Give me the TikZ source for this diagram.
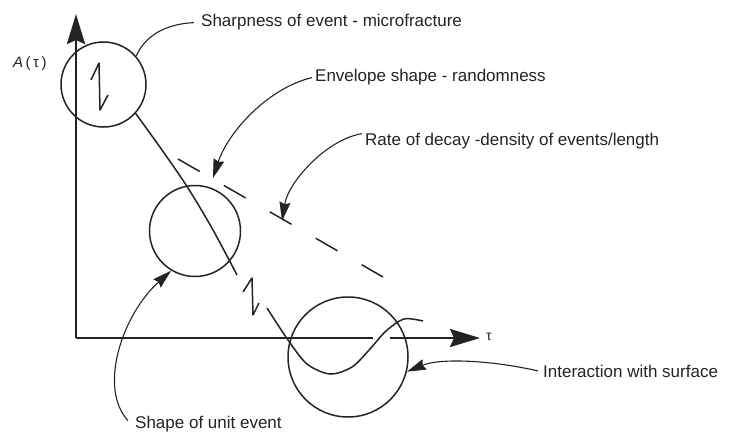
\documentclass[tikz,border=0pt]{standalone}
\usepackage{fontspec}
\setmainfont{Liberation Sans}
\usetikzlibrary{arrows.meta,positioning}
\definecolor{ink}{RGB}{35,35,35}

\begin{document}
\begin{tikzpicture}[x=1pt,y=-1pt,
  every node/.style={font=\fontsize{17}{20}\selectfont,text=ink,inner sep=1pt},
  ring/.style={draw=ink,circle,line width=1.5pt,inner sep=0pt},
  axis/.style={draw=ink,line width=2.4pt},
  trace/.style={draw=ink,line width=1.5pt,line join=round},
  lead/.style={draw=ink,line width=1.1pt},
  tip/.style={-{Stealth[length=19pt,width=11pt,inset=2pt]}},
  bigtip/.style={-{Stealth[length=30pt,width=18pt,inset=4pt]}}]
  \useasboundingbox (0,0) rectangle (735,433);
  \coordinate (origin) at (76,338);
  \coordinate (ytop) at (76,14);
  \coordinate (xgapl) at (373,338);
  \coordinate (xgapr) at (390,338);
  \coordinate (xend) at (480,338);
  \draw[axis,bigtip] (origin) -- (ytop);
  \draw[axis] (origin) -- (xgapl);
  \draw[axis,bigtip] (xgapr) -- (xend);
  \node[anchor=base west,font=\fontsize{15}{18}\selectfont] (alabel) at (12,68) {\textit{A}\,(\,τ\,)};
  \node[anchor=base west,font=\fontsize{14}{16}\selectfont] (taulabel) at (485,340) {τ};
  \node[ring,minimum size=85pt] (sharp) at (103.5,84.5) {};
  \node[ring,minimum size=91pt] (unit) at (195,231) {};
  \node[ring,minimum size=120pt] (surface) at (348,357) {};
  \draw[trace] plot[smooth] coordinates {(sharp.-42) (162,150) (188,188) (213,230) (237,275)};
  \draw[trace] (91,80) -- (99,63) -- (100,110) -- (108,95);
  \draw[trace] (243,292) -- (252,278) -- (253,315) -- (259,303);
  \draw[trace] plot[smooth] coordinates {(267,308) (288,340) (307,364) (330,374) (352,367) (370,349) (386,331) (404,319) (423,321)};
  \draw[trace,dash pattern=on 25pt off 28pt] (178,159) -- (383,277);
  \node[anchor=base west] (sharptxt) at (200,27) {Sharpness of event - microfracture};
  \node[anchor=base west] (envtxt) at (314,82) {Envelope shape - randomness};
  \node[anchor=base west] (ratetxt) at (364,145) {Rate of decay -density of events/length};
  \node[anchor=base west] (surftxt) at (542,377) {Interaction with surface};
  \node[anchor=base west] (unittxt) at (134,428) {Shape of unit event};
  \coordinate (envtip) at (213,178);
  \coordinate (ratetip) at (282,221);
  \draw[lead] (sharp.41) .. controls (145,36) and (165,24) .. ([xshift=-6pt]sharptxt.west);
  \draw[lead,tip] ([xshift=-2pt]envtxt.west) .. controls (268,88) and (228,132) .. (envtip);
  \draw[lead,tip] ([xshift=-2pt,yshift=7pt]ratetxt.west) .. controls (325,140) and (288,183) .. (ratetip);
  \draw[lead,tip] ([xshift=-4pt]surftxt.west) .. controls (490,360) and (440,358) .. (surface.-14);
  \draw[lead,tip] ([xshift=-6pt,yshift=3pt]unittxt.west) .. controls (98,388) and (122,315) .. (unit.-121);
\end{tikzpicture}
\end{document}
